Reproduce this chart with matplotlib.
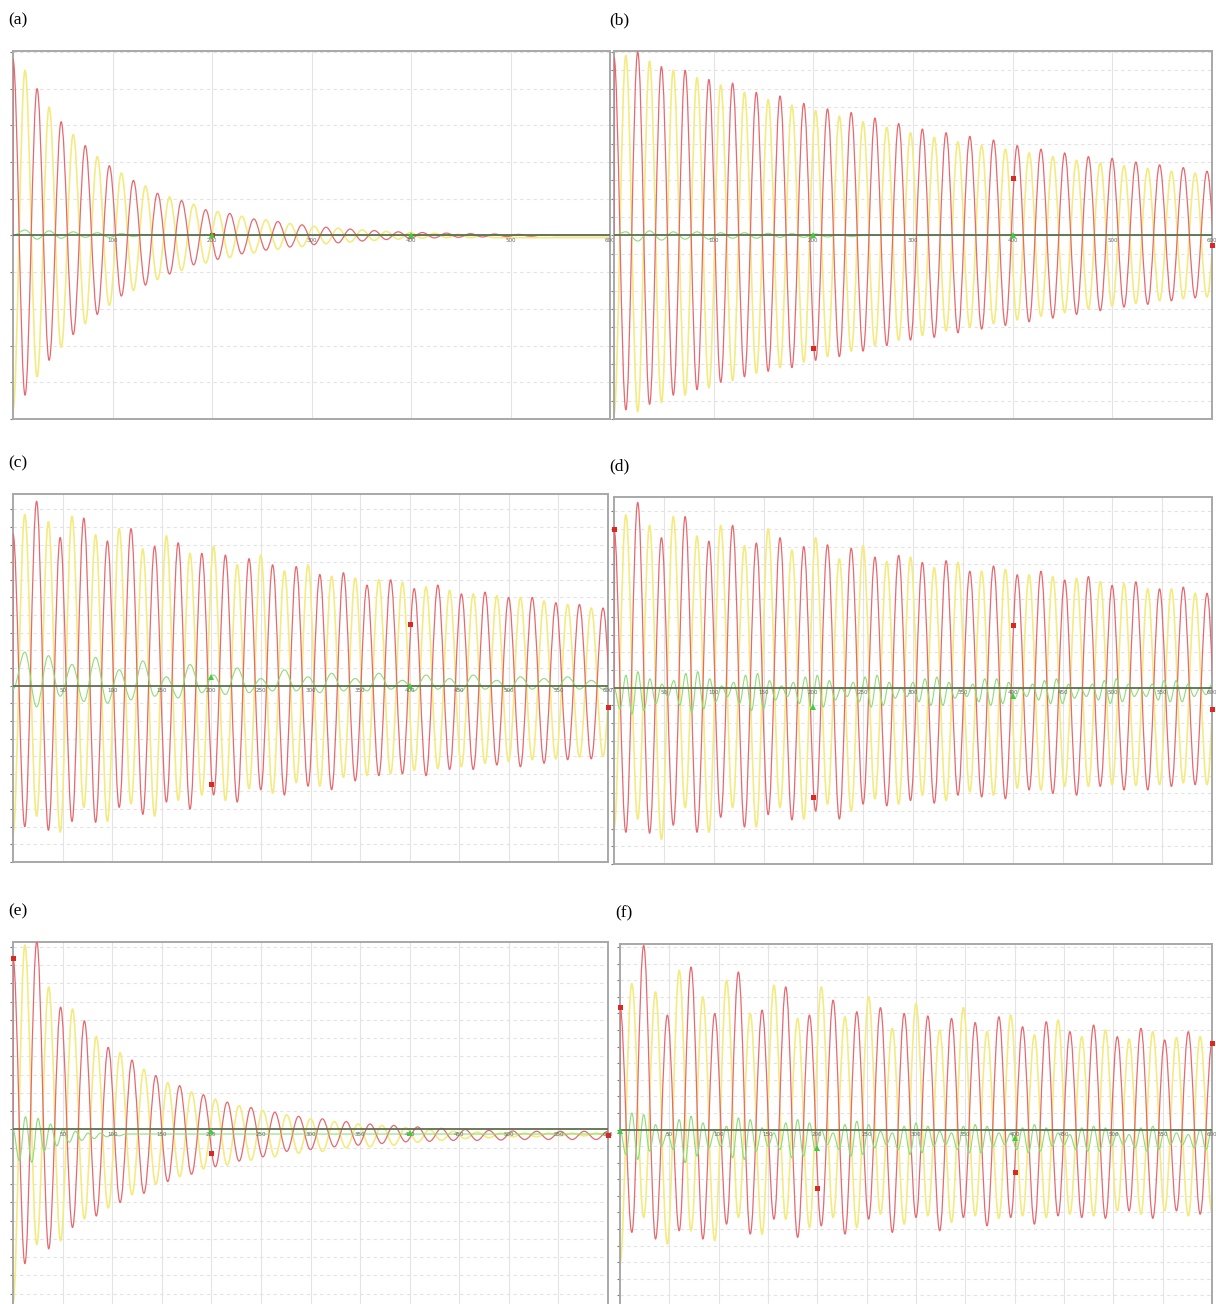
import numpy as np
import matplotlib.pyplot as plt
from matplotlib.path import Path
from matplotlib.patches import PathPatch

# every panel runs 0..600 along x; curves are given as their turning points
# (one value every half period)
x_end = 600
ticks_100 = [100, 200, 300, 400, 500, 600]
ticks_50 = [50, 100, 150, 200, 250, 300, 350, 400, 450, 500, 550, 600]

# ---- (a) ----
half_a = 12.1
red_a = [0.96, -0.87, 0.80, -0.68, 0.62, -0.54, 0.49, -0.43, 0.38, -0.33, 0.30, -0.27,
         0.23, -0.21, 0.19, -0.16, 0.14, -0.13, 0.12, -0.10, 0.09, -0.08, 0.076, -0.063,
         0.058, -0.05, 0.045, -0.04, 0.035, -0.03, 0.027, -0.022, 0.02, -0.017, 0.016,
         -0.013, 0.013, -0.01, 0.01, -0.008, 0.008, -0.006, 0.006, -0.004, 0.003, 0.0]
yellow_a = [-0.95, 0.90, -0.77, 0.70, -0.61, 0.55, -0.48, 0.43, -0.38, 0.34, -0.30, 0.27,
            -0.24, 0.21, -0.19, 0.17, -0.15, 0.13, -0.12, 0.105, -0.095, 0.085, -0.075,
            0.065, -0.06, 0.05, -0.045, 0.04, -0.035, 0.03, -0.027, 0.022, -0.02, 0.016,
            -0.015, 0.012, -0.012, 0.006, -0.012, 0.0, -0.012]
green_a = [0.0, 0.03, -0.02, 0.025, -0.015, 0.02, -0.01, 0.015, -0.01, 0.01, -0.005, 0.005, 0.0]
sq_a = [(200, 0.0)]
tri_a = [(200, 0.0), (400, 0.0)]

# ---- (b) ----
half_b = 11.9
red_b = [0.97, -0.95, 1.0, -0.92, 0.92, -0.87, 0.90, -0.84, 0.85, -0.80, 0.83, -0.77,
         0.78, -0.74, 0.76, -0.72, 0.72, -0.68, 0.69, -0.66, 0.67, -0.63, 0.64, -0.60,
         0.61, -0.57, 0.58, -0.555, 0.56, -0.53, 0.54, -0.51, 0.52, -0.49, 0.49, -0.47,
         0.47, -0.45, 0.45, -0.43, 0.43, -0.41, 0.42, -0.39, 0.40, -0.375, 0.385, -0.356,
         0.37, -0.34, 0.35, -0.33]
yellow_b = [-0.97, 0.98, -0.96, 0.95, -0.91, 0.90, -0.87, 0.86, -0.83, 0.82, -0.79, 0.78,
            -0.75, 0.74, -0.72, 0.71, -0.69, 0.68, -0.66, 0.65, -0.63, 0.62, -0.60, 0.59,
            -0.57, 0.56, -0.545, 0.535, -0.52, 0.51, -0.50, 0.49, -0.48, 0.47, -0.46, 0.45,
            -0.44, 0.43, -0.42, 0.41, -0.40, 0.395, -0.385, 0.38, -0.37, 0.365, -0.355,
            0.35, -0.345, 0.34, -0.335, 0.33]
green_b = [0.0, 0.02, -0.03, 0.025, -0.025, 0.02, -0.02, 0.02, -0.02, 0.015, -0.015, 0.015,
           -0.015, 0.012, -0.01, 0.01, -0.01, 0.008, -0.008, 0.005, -0.005, 0.0]
sq_b = [(200, -0.615), (400, 0.313), (600, -0.05)]
tri_b = [(200, 0.0), (400, 0.0)]

# ---- (c) ----
half_c = 11.9
red_c = [0.86, -0.80, 1.045, -0.82, 0.84, -0.77, 0.95, -0.775, 0.82, -0.69, 0.89, -0.73,
         0.79, -0.66, 0.81, -0.70, 0.75, -0.62, 0.74, -0.66, 0.72, -0.59, 0.685, -0.62,
         0.675, -0.57, 0.63, -0.59, 0.64, -0.54, 0.57, -0.51, 0.60, -0.50, 0.55, -0.51,
         0.57, -0.475, 0.52, -0.475, 0.53, -0.45, 0.50, -0.46, 0.50, -0.44, 0.47, -0.42,
         0.46, -0.415, 0.44, -0.41]
yellow_c = [-0.84, 0.97, -0.74, 0.93, -0.83, 0.96, -0.69, 0.855, -0.77, 0.89, -0.67, 0.775,
            -0.74, 0.85, -0.65, 0.75, -0.62, 0.79, -0.65, 0.685, -0.585, 0.74, -0.61, 0.65,
            -0.55, 0.685, -0.57, 0.62, -0.52, 0.61, -0.51, 0.60, -0.50, 0.585, -0.48, 0.56,
            -0.47, 0.54, -0.46, 0.52, -0.44, 0.51, -0.43, 0.50, -0.42, 0.48, -0.415, 0.46,
            -0.405, 0.44, -0.40, 0.43]
green_c = [-0.02, 0.19, -0.12, 0.17, -0.06, 0.12, -0.09, 0.16, -0.10, 0.09, -0.08, 0.14,
           -0.06, 0.05, -0.07, 0.12, -0.04, 0.06, -0.05, 0.10, -0.04, 0.04, -0.03, 0.09,
           -0.03, 0.05, -0.04, 0.07, -0.03, 0.04, -0.03, 0.07, -0.02, 0.03, -0.03, 0.06,
           -0.02, 0.04, -0.03, 0.06, -0.02, 0.03, -0.03, 0.05, -0.02, 0.04, -0.02, 0.05,
           -0.02, 0.03, -0.02, 0.04]
sq_c = [(200, -0.56), (400, 0.35), (600, -0.12)]
tri_c = [(200, 0.05), (400, 0.0)]

# ---- (d) ----
half_d = 11.9
red_d = [0.90, -0.82, 1.05, -0.825, 0.85, -0.78, 0.97, -0.82, 0.83, -0.735, 0.92, -0.79,
         0.82, -0.72, 0.85, -0.75, 0.80, -0.70, 0.81, -0.745, 0.79, -0.66, 0.74, -0.67,
         0.75, -0.64, 0.71, -0.655, 0.72, -0.61, 0.66, -0.62, 0.69, -0.63, 0.64, -0.58,
         0.66, -0.60, 0.61, -0.61, 0.63, -0.56, 0.58, -0.58, 0.60, -0.58, 0.56, -0.56,
         0.57, -0.55, 0.535, -0.55]
yellow_d = [-0.80, 0.98, -0.745, 0.92, -0.86, 0.97, -0.68, 0.86, -0.82, 0.92, -0.68, 0.805,
            -0.79, 0.90, -0.68, 0.78, -0.745, 0.85, -0.66, 0.73, -0.70, 0.805, -0.63, 0.715,
            -0.66, 0.74, -0.61, 0.68, -0.64, 0.71, -0.59, 0.66, -0.61, 0.67, -0.57, 0.64,
            -0.58, 0.63, -0.56, 0.62, -0.56, 0.60, -0.55, 0.59, -0.555, 0.56, -0.55, 0.56,
            -0.54, 0.535, -0.55, 0.53]
half_green_d = 6.0
green_d = [0.0, -0.12, 0.07, -0.15, 0.09, -0.13, 0.05, -0.09, 0.02, -0.05, 0.04, -0.10,
           0.08, -0.14, 0.09, -0.12, 0.05, -0.08, 0.01, -0.05, 0.03, -0.09, 0.07, -0.13,
           0.08, -0.12, 0.04, -0.07, 0.01, -0.05, 0.03, -0.09, 0.06, -0.12, 0.07, -0.11,
           0.04, -0.07, 0.0, -0.05, 0.03, -0.08, 0.06, -0.11, 0.07, -0.10, 0.03, -0.06,
           0.0, -0.05, 0.03, -0.08, 0.05, -0.10, 0.06, -0.10, 0.03, -0.06, 0.0, -0.05,
           0.02, -0.08, 0.05, -0.10, 0.05, -0.09, 0.03, -0.06, 0.0, -0.05, 0.02, -0.07,
           0.04, -0.09, 0.05, -0.09, 0.02, -0.06, 0.0, -0.05, 0.02, -0.07, 0.04, -0.09,
           0.05, -0.08, 0.02, -0.05, 0.0, -0.05, 0.02, -0.07, 0.04, -0.08, 0.04, -0.08,
           0.02, -0.05, 0.0, -0.04, 0.02, -0.06]
sq_d = [(0, 0.9), (200, -0.62), (400, 0.355), (600, -0.12)]
tri_d = [(200, -0.11), (400, -0.05)]

# ---- (e) ----
half_e = 12.0
red_e = [0.94, -0.735, 1.03, -0.654, 0.67, -0.537, 0.595, -0.474, 0.45, -0.40, 0.38, -0.35,
         0.295, -0.285, 0.24, -0.245, 0.19, -0.204, 0.15, -0.173, 0.12, -0.15, 0.094, -0.12,
         0.072, -0.11, 0.058, -0.095, 0.043, -0.086, 0.03, -0.077, 0.022, -0.068, 0.014,
         -0.065, 0.006, -0.06, 0.0, -0.06, -0.005, -0.058, -0.008, -0.055, -0.01, -0.055,
         -0.01, -0.055, -0.01, -0.055, -0.01, -0.055]
yellow_e = [-0.95, 1.01, -0.63, 0.78, -0.61, 0.66, -0.49, 0.51, -0.43, 0.42, -0.357, 0.33,
            -0.30, 0.256, -0.258, 0.205, -0.216, 0.166, -0.195, 0.13, -0.168, 0.103, -0.15,
            0.08, -0.13, 0.058, -0.12, 0.043, -0.10, 0.03, -0.095, 0.022, -0.086, 0.01,
            -0.07, 0.0, -0.06, -0.01, -0.05, -0.015, -0.045, -0.02, -0.04, -0.02, -0.04,
            -0.02, -0.035, -0.02, -0.035, -0.02, -0.035, -0.02]
half_green_e = 6.3
green_e = [0.0, -0.17, 0.07, -0.18, 0.06, -0.12, 0.03, -0.09, 0.0, -0.07, -0.01, -0.06,
           -0.02, -0.05, -0.02, -0.04, -0.025, -0.035, -0.025]
sq_e = [(0, 0.94), (200, -0.13), (600, -0.03)]
tri_e = [(200, -0.01), (400, -0.02)]

# ---- (f) ----
half_f = 12.0
red_f = [0.74, -0.62, 1.11, -0.66, 0.69, -0.61, 0.98, -0.66, 0.70, -0.57, 0.95, -0.63,
         0.72, -0.54, 0.86, -0.65, 0.69, -0.58, 0.78, -0.63, 0.71, -0.54, 0.735, -0.62,
         0.70, -0.53, 0.685, -0.61, 0.67, -0.53, 0.645, -0.58, 0.68, -0.53, 0.62, -0.57,
         0.65, -0.52, 0.59, -0.53, 0.63, -0.535, 0.56, -0.49, 0.61, -0.535, 0.54, -0.49,
         0.59, -0.51, 0.52, -0.50]
yellow_f = [-0.81, 0.88, -0.53, 0.83, -0.69, 0.96, -0.61, 0.80, -0.67, 0.90, -0.53, 0.70,
            -0.63, 0.87, -0.54, 0.67, -0.59, 0.86, -0.53, 0.68, -0.59, 0.80, -0.51, 0.61,
            -0.57, 0.76, -0.52, 0.60, -0.56, 0.735, -0.52, 0.59, -0.535, 0.69, -0.52, 0.57,
            -0.53, 0.66, -0.51, 0.56, -0.52, 0.60, -0.49, 0.546, -0.51, 0.59, -0.49, 0.555,
            -0.52, 0.56, -0.50, 0.55]
half_green_f = 6.0
green_f = [0.0, -0.15, 0.10, -0.18, 0.09, -0.13, 0.03, -0.10, -0.02, -0.12, 0.06, -0.20,
           0.08, -0.16, 0.04, -0.11, -0.01, -0.10, 0.02, -0.17, 0.07, -0.18, 0.06, -0.13,
           0.01, -0.10, -0.02, -0.12, 0.04, -0.17, 0.06, -0.16, 0.04, -0.12, 0.0, -0.09,
           -0.02, -0.12, 0.03, -0.16, 0.05, -0.15, 0.03, -0.11, -0.01, -0.09, -0.02, -0.12,
           0.02, -0.15, 0.04, -0.14, 0.02, -0.10, -0.01, -0.09, -0.02, -0.12, 0.02, -0.14,
           0.03, -0.14, 0.02, -0.10, -0.02, -0.09, -0.02, -0.12, 0.01, -0.14, 0.03, -0.13,
           0.01, -0.10, -0.02, -0.09, -0.03, -0.12, 0.01, -0.13, 0.02, -0.13, 0.01, -0.10,
           -0.02, -0.09, -0.03, -0.11, 0.01, -0.13, 0.02, -0.12, 0.0, -0.09, -0.02, -0.09,
           -0.03, -0.11, 0.0, -0.12, 0.01, -0.11]
sq_f = [(0, 0.74), (200, -0.355), (400, -0.256), (600, 0.52)]
tri_f = [(0, -0.01), (200, -0.11), (400, -0.05)]

# colours
RED = '#e5696f'
YELLOW = '#f3eb82'
GREEN = '#8edc7a'

W, H = 1216, 1304


def wave(ax, half, vals, color, lw, z):
    """Smooth curve through the turning points (bezier handles give a sine-ish shape)."""
    xs = half * np.arange(len(vals))
    verts = [(0, 0), (xs[0], vals[0])]
    codes = [Path.MOVETO, Path.LINETO]
    k = 0.3642 * half
    for i in range(1, len(vals)):
        verts += [(xs[i - 1] + k, vals[i - 1]), (xs[i] - k, vals[i]), (xs[i], vals[i])]
        codes += [Path.CURVE4] * 3
    if xs[-1] < x_end:
        verts.append((x_end, vals[-1]))
        codes.append(Path.LINETO)
    ax.add_patch(PathPatch(Path(verts, codes), fill=False, edgecolor=color, lw=lw,
                           zorder=z, joinstyle='round'))


def panel(label, box, zero_px, ticks, ystep, red, yellow, green, half, half_green, squares, tris):
    l, t, r, b = box
    ax = fig.add_axes([l / W, 1 - b / H, (r - l) / W, (b - t) / H])
    ppu = 185.0  # pixels per y unit, same in all panels
    ax.set_xlim(0, x_end)
    ax.set_ylim(-(b - zero_px) / ppu, (zero_px - t) / ppu)
    ax.set_facecolor('white')

    # grid: solid verticals, dashed horizontals
    for gx in ticks:
        ax.axvline(gx, color='#e4e4e4', lw=0.8, zorder=0)
    ylo, yhi = ax.get_ylim()
    gys = np.arange(ystep, max(-ylo, yhi) + 1e-9, ystep)
    for gy in np.concatenate([gys, -gys]):
        ax.axhline(gy, color='#e2e2e2', lw=0.8, ls=(0, (3, 3)), zorder=0)
    ax.set_yticks(np.concatenate([-gys[::-1], [0], gys]))
    ax.set_yticklabels([])
    ax.set_xticks([])
    ax.tick_params(axis='y', direction='out', length=2.5, width=0.8, color='#777777')

    wave(ax, half, yellow, YELLOW, 1.2, 2)
    wave(ax, half, red, RED, 0.9, 3)
    wave(ax, half_green, green, GREEN, 0.8, 4)

    ax.axhline(0, color='#5d6f50', lw=1.3, zorder=5)
    for tx in ticks:
        ax.text(tx, -0.015, str(tx), fontsize=4, color='#666666', ha='center', va='top', zorder=6)

    for x, y in squares:
        ax.plot(x, y, 's', color='#d82a22', ms=3.6, mew=0, zorder=7, clip_on=False)
    for x, y in tris:
        ax.plot(x, y, '^', color='#3fcc3f', ms=4.2, mew=0, zorder=7, clip_on=False)

    for sp in ax.spines.values():
        sp.set_color('#a8a8a8')
        sp.set_linewidth(1.4)

    fig.text((l - 5) / W, 1 - (t - 31) / H, label, fontsize=12.5,
             family='Liberation Serif', va='center', ha='left')
    return ax


fig = plt.figure(figsize=(W / 100, H / 100), dpi=100)

panel('(a)', (13, 51, 610, 419), 237, ticks_100, 0.2, red_a, yellow_a, green_a, half_a, half_a, sq_a, tri_a)
panel('(b)', (614, 51, 1212, 419), 237, ticks_100, 0.1, red_b, yellow_b, green_b, half_b, half_b, sq_b, tri_b)
panel('(c)', (13, 494, 608, 862), 695, ticks_50, 0.1, red_c, yellow_c, green_c, half_c, half_c, sq_c, tri_c)
panel('(d)', (614, 497, 1212, 864), 697, ticks_50, 0.1, red_d, yellow_d, green_d, half_d, half_green_d, sq_d, tri_d)
panel('(e)', (13, 942, 608, 1312), 1132, ticks_50, 0.1, red_e, yellow_e, green_e, half_e, half_green_e, sq_e, tri_e)
panel('(f)', (620, 944, 1212, 1312), 1151, ticks_50, 0.1, red_f, yellow_f, green_f, half_f, half_green_f, sq_f, tri_f)

fig.savefig('out.png', dpi=100)
